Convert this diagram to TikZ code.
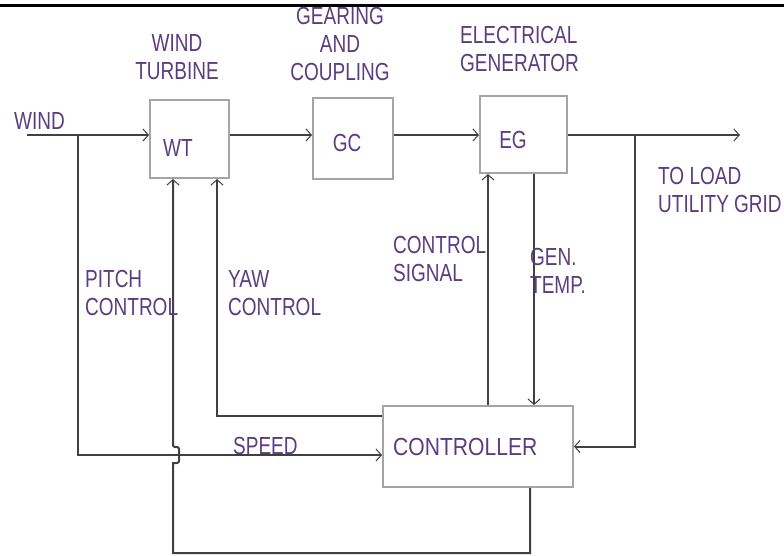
\documentclass[tikz,border=0pt]{standalone}
\usepackage{fontspec}
\setmainfont{Liberation Sans}
\usetikzlibrary{arrows.meta}
\definecolor{txt}{RGB}{92,60,128}
\definecolor{ln}{RGB}{64,64,64}
\definecolor{bx}{RGB}{165,165,165}
\newcommand{\stl}[1]{\scalebox{1}[1.3]{\begin{tabular}{@{}l@{}}#1\end{tabular}}}
\newcommand{\stc}[1]{\scalebox{1}[1.3]{\begin{tabular}{@{}c@{}}#1\end{tabular}}}
\newcommand{\stw}[1]{\scalebox{1.11}[1.3]{\begin{tabular}{@{}l@{}}#1\end{tabular}}}
\begin{document}
\begin{tikzpicture}[x=1pt,y=-1pt,
  lbl/.style={text=txt, font=\fontsize{19}{21.5}\selectfont, inner sep=0pt},
  blk/.style={draw=bx, line width=1.8pt, inner sep=0pt},
  wire/.style={draw=ln, line width=2pt},
  arr/.style={wire, -{Straight Barb[length=5.5pt,width=12pt,line width=1pt]}}]
\useasboundingbox (0,0) rectangle (784,555);
% top rule
\coordinate (tl) at (0,5);
\coordinate (tr) at (784,5);
\draw[line width=3pt] (tl) -- (tr);
% blocks
\node[blk, minimum width=79pt, minimum height=78pt] (WT) at (189.5,139) {};
\node[blk, minimum width=80pt, minimum height=81pt] (GC) at (353,138.5) {};
\node[blk, minimum width=87pt, minimum height=77pt] (EG) at (523.5,134.5) {};
\node[blk, minimum width=190pt, minimum height=81pt] (CT) at (478,446.5) {};
% coordinates
\coordinate (win) at (27,135);
\coordinate (j1) at (78,135);
\coordinate (sp) at (78,455);
\coordinate (out) at (740,135);
\coordinate (j2) at (635,135);
\coordinate (pb) at (173,553);
\coordinate (pc) at (530,553);
\coordinate (yw) at (217,416);
\coordinate (cs) at (488,300);
\coordinate (gt) at (534,300);
% main chain
\draw[arr] (win) -- (win -| WT.west);
\draw[arr] (WT.east |- win) -- (GC.west |- win);
\draw[arr] (GC.east |- win) -- (EG.west |- win);
\draw[arr] (EG.east |- win) -- (out);
% speed
\draw[arr] (j1) -- (sp) -- (sp -| CT.west);
% load feedback
\draw[arr] (j2) |- (CT.east);
% pitch control with hop
\draw[arr] (pc |- CT.south) -- (pc) -- (pb) -- (173,463)
  {[rounded corners=2pt] -- (179,463) -- (179,447) -- (173,447)} -- (pb |- WT.south);
% yaw control
\draw[arr] (yw -| CT.west) -- (yw) -- (yw |- WT.south);
% control signal, gen temp
\draw[arr] (cs |- CT.north) -- (cs |- EG.south);
\draw[arr] (gt |- EG.south) -- (gt |- CT.north);
% texts
\node[lbl, anchor=center] (tWT) at (178,151) {\stc{WT}};
\node[lbl, anchor=center] (tGC) at (347,146) {\stc{GC}};
\node[lbl, anchor=center] (tEG) at (513,143) {\stc{EG}};
\node[lbl, anchor=west] (tCT) at (393,450) {\stw{CONTROLLER}};
\node[lbl, anchor=west] (lwind) at (14,124) {\stl{WIND}};
\node[lbl, anchor=center] (lwt) at (177,60) {\stc{WIND\\TURBINE}};
\node[lbl, anchor=center] (lgc) at (340,47) {\stc{GEARING\\AND\\COUPLING}};
\node[lbl, anchor=west] (leg) at (460,51.5) {\stl{ELECTRICAL\\GENERATOR}};
\node[lbl, anchor=west] (lload) at (658,193) {\stl{TO LOAD\\UTILITY GRID}};
\node[lbl, anchor=west] (lpitch) at (85,295.5) {\stl{PITCH\\CONTROL}};
\node[lbl, anchor=west] (lyaw) at (228,295.5) {\stl{YAW\\CONTROL}};
\node[lbl, anchor=west] (lcs) at (393,262) {\stl{CONTROL\\SIGNAL}};
\node[lbl, anchor=west] (lgt) at (530,273.5) {\stl{GEN.\\TEMP.}};
\node[lbl, anchor=west] (lsp) at (233,449) {\stl{SPEED}};
\end{tikzpicture}
\end{document}
